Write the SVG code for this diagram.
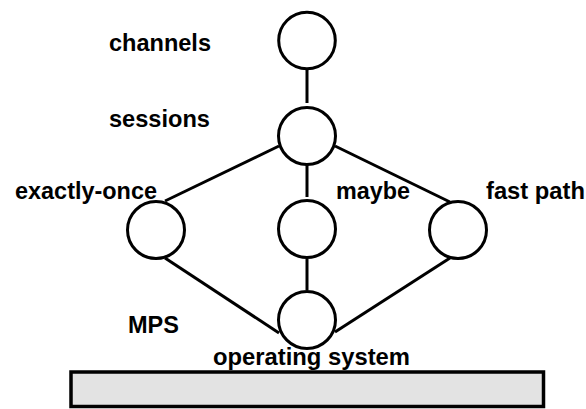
<svg xmlns="http://www.w3.org/2000/svg" width="586" height="409" viewBox="0 0 586 409">
  <style>
    .node { fill: #ffffff; stroke: #000000; stroke-width: 3; }
    .edge { stroke: #000000; stroke-width: 3; fill: none; }
    .lbl { font-family: "Liberation Sans", Arial, sans-serif; font-weight: bold; font-size: 24px; fill: #000000; }
    .base { fill: #e3e3e3; stroke: #000000; stroke-width: 3.5; }
  </style>
  <rect width="586" height="409" fill="#ffffff"/>

  <!-- operating system slab -->
  <g id="os-base">
    <rect class="base" x="71" y="372" width="472.5" height="34.5"/>
  </g>

  <!-- connectors -->
  <g id="connectors">
    <line class="edge" x1="307" y1="70" x2="307" y2="103"/>
    <line class="edge" x1="279" y1="146" x2="165" y2="201"/>
    <line class="edge" x1="307" y1="165" x2="307" y2="197"/>
    <line class="edge" x1="335" y1="146" x2="450" y2="202"/>
    <line class="edge" x1="165" y1="258" x2="279" y2="333"/>
    <line class="edge" x1="307" y1="259" x2="307" y2="290"/>
    <line class="edge" x1="450" y1="258" x2="335" y2="332"/>
  </g>

  <g id="channels">
    <circle class="node" cx="307" cy="40.5" r="28.3"/>
    <text class="lbl" x="109" y="51" textLength="102" lengthAdjust="spacingAndGlyphs">channels</text>
  </g>
  <g id="sessions">
    <circle class="node" cx="307" cy="136" r="28.5"/>
    <text class="lbl" x="109" y="126.5" textLength="101" lengthAdjust="spacingAndGlyphs">sessions</text>
  </g>
  <g id="exactly-once">
    <circle class="node" cx="156" cy="230" r="28.5"/>
    <text class="lbl" x="15" y="199" textLength="142" lengthAdjust="spacingAndGlyphs">exactly-once</text>
  </g>
  <g id="maybe">
    <circle class="node" cx="307" cy="229" r="28.5"/>
    <text class="lbl" x="336" y="199" textLength="74" lengthAdjust="spacingAndGlyphs">maybe</text>
  </g>
  <g id="fast-path">
    <circle class="node" cx="458" cy="230" r="28.5"/>
    <text class="lbl" x="486" y="199" textLength="99" lengthAdjust="spacingAndGlyphs">fast path</text>
  </g>
  <g id="mps">
    <circle class="node" cx="307" cy="320" r="28.5"/>
    <text class="lbl" x="128" y="333" textLength="51" lengthAdjust="spacingAndGlyphs">MPS</text>
  </g>
  <g id="operating-system">
    <text class="lbl" x="213" y="365" textLength="197" lengthAdjust="spacingAndGlyphs">operating system</text>
  </g>
</svg>
